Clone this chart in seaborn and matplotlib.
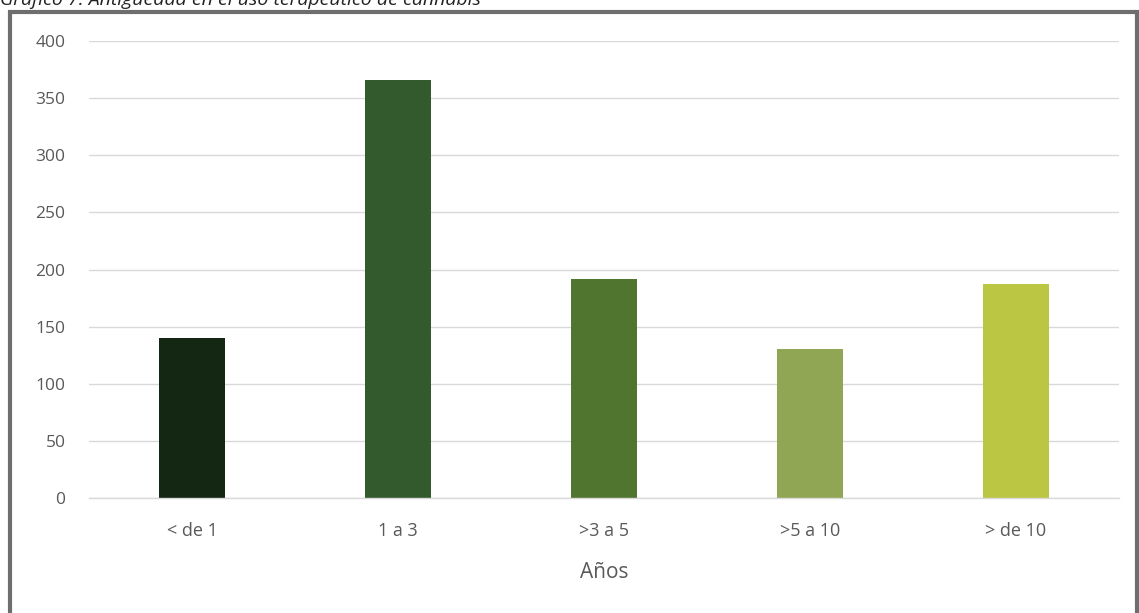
import matplotlib
matplotlib.use("Agg")
import matplotlib.pyplot as plt
import seaborn as sns
import pandas as pd
from matplotlib.patches import Rectangle

categories = ["< de 1", "1 a 3", ">3 a 5", ">5 a 10", "> de 10"]
values = [140, 366, 192, 130, 187]
colors = ["#132713", "#335A2C", "#4F752F", "#90A655", "#BBC643"]
yticks = [0, 50, 100, 150, 200, 250, 300, 350, 400]
title = "Gráfico 7. Antigüedad en el uso terapéutico de cannabis"
xlabel = "Años"

sns.set_theme(style="white")
plt.rcParams["font.family"] = ["Open Sans", "DejaVu Sans"]

W, H = 1139, 613
fig = plt.figure(figsize=(W / 100, H / 100), dpi=100)
ax = fig.add_axes([89 / W, 1 - 498 / H, (1119 - 89) / W, (498 - 41) / H])

df = pd.DataFrame({"cat": categories, "val": values})
sns.barplot(data=df, x="cat", y="val", hue="cat", palette=colors, legend=False,
            width=0.316, ax=ax, saturation=1, edgecolor="none")

ax.set_ylim(0, 400)
ax.set_xlim(-0.5, 4.5)
ax.set_yticks(yticks)
ax.set_yticklabels([str(t) for t in yticks])
ax.yaxis.grid(True, color="#d9d9d9", linewidth=1.0)
ax.set_axisbelow(True)
for s in ["top", "right", "left"]:
    ax.spines[s].set_visible(False)
ax.spines["bottom"].set_color("#d9d9d9")
ax.spines["bottom"].set_linewidth(1.0)
ax.tick_params(axis="y", length=0, pad=17, labelsize=12.5, labelcolor="#595959")
ax.tick_params(axis="x", length=0, pad=17, labelsize=13, labelcolor="#595959")
ax.set_ylabel("")
ax.set_xlabel(xlabel, fontsize=15, color="#595959", labelpad=16)

# outer frame
fig.patches.append(Rectangle((10 / W, -0.05), (1137 - 10) / W, 1 - 12 / H + 0.05,
                             transform=fig.transFigure, fill=False,
                             edgecolor="#6e6e6e", linewidth=3, zorder=10))
fig.text(0.0, 1 - 5 / H, title, fontsize=14, style="italic", color="#222222",
         ha="left", va="baseline")

fig.savefig("out.png", dpi=100, facecolor="white")
